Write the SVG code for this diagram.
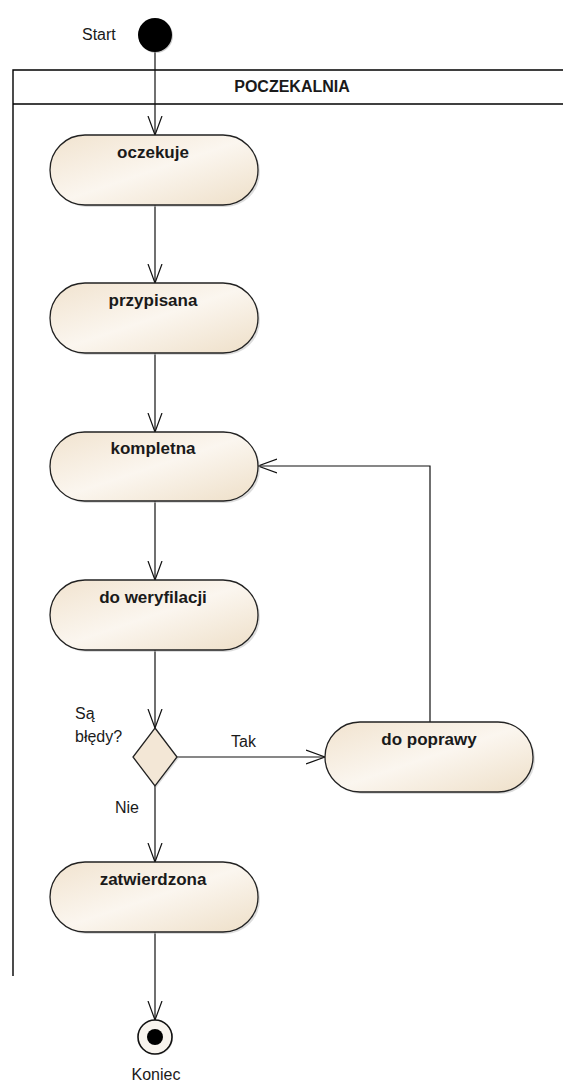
<svg xmlns="http://www.w3.org/2000/svg" width="563" height="1082" viewBox="0 0 563 1082">
  <style>
    .lane { fill: none; stroke: #000; stroke-width: 1.4; }
    .act rect { fill: url(#actFill); stroke: #222; stroke-width: 1.3; }
    .act .sh { fill: #bbb; stroke: none; opacity: 0.5; }
    .act text { font-family: "Liberation Sans", Arial, sans-serif; font-weight: bold; font-size: 17px; fill: #1a1a1a; text-anchor: middle; }
    .lbl { font-family: "Liberation Sans", Arial, sans-serif; font-size: 16px; fill: #1a1a1a; }
    .flow { fill: none; stroke: #111; stroke-width: 1.2; marker-end: url(#open); }
  </style>
  <defs>
    <linearGradient id="actFill" x1="0" y1="0" x2="1" y2="1">
      <stop offset="0" stop-color="#f1e3cf"/>
      <stop offset="0.5" stop-color="#fbf6ef"/>
      <stop offset="1" stop-color="#eedfc8"/>
    </linearGradient>
    <marker id="open" viewBox="0 0 20 16" refX="19" refY="8" markerWidth="20" markerHeight="16" markerUnits="userSpaceOnUse" orient="auto">
      <path d="M0 1 L19 8 L0 15" fill="none" stroke="#111" stroke-width="1.2"/>
    </marker>
  </defs>

  <!-- swimlane -->
  <g id="lane">
    <path class="lane" d="M563 70 H13 V976"/>
    <line class="lane" x1="13" y1="104" x2="563" y2="104"/>
    <text class="lbl" x="292" y="92" text-anchor="middle" font-weight="bold" font-size="17">POCZEKALNIA</text>
  </g>

  <!-- connectors -->
  <g id="connectors">
    <line class="flow" x1="155" y1="52" x2="155" y2="135"/>
    <line class="flow" x1="155" y1="205" x2="155" y2="283"/>
    <line class="flow" x1="155" y1="353" x2="155" y2="432"/>
    <line class="flow" x1="155" y1="501" x2="155" y2="580"/>
    <line class="flow" x1="155" y1="650" x2="155" y2="728"/>
    <line class="flow" x1="177" y1="757" x2="325" y2="757"/>
    <line class="flow" x1="155" y1="786" x2="155" y2="862"/>
    <line class="flow" x1="155" y1="932" x2="155" y2="1020"/>
    <path class="flow" d="M430 722 V466 H258"/>
    <text class="lbl" x="231" y="747">Tak</text>
    <text class="lbl" x="115" y="813">Nie</text>
  </g>

  <!-- initial node -->
  <g id="start">
    <circle cx="156" cy="36" r="17" fill="#999" opacity="0.5"/>
    <circle cx="155" cy="35" r="17" fill="#000"/>
    <text class="lbl" x="82" y="40">Start</text>
  </g>

  <g id="oczekuje" class="act">
    <rect class="sh" x="52" y="137" width="208" height="70" rx="35"/>
    <rect x="50" y="135" width="208" height="70" rx="35"/>
    <text x="153" y="158">oczekuje</text>
  </g>

  <g id="przypisana" class="act">
    <rect class="sh" x="52" y="285" width="208" height="70" rx="35"/>
    <rect x="50" y="283" width="208" height="70" rx="35"/>
    <text x="153" y="306">przypisana</text>
  </g>

  <g id="kompletna" class="act">
    <rect class="sh" x="52" y="434" width="208" height="69" rx="34.5"/>
    <rect x="50" y="432" width="208" height="69" rx="34.5"/>
    <text x="153" y="454">kompletna</text>
  </g>

  <g id="do-weryfilacji" class="act">
    <rect class="sh" x="52" y="582" width="208" height="70" rx="35"/>
    <rect x="50" y="580" width="208" height="70" rx="35"/>
    <text x="153" y="603">do weryfilacji</text>
  </g>

  <!-- decision -->
  <g id="decyzja">
    <polygon points="156,730 179,758 156,788 134,758" fill="#bbb" opacity="0.5"/>
    <polygon points="155,728 177,757 155,786 133,757" fill="#f3e7d6" stroke="#222" stroke-width="1.3"/>
    <text class="lbl" x="75" y="719">Są</text>
    <text class="lbl" x="75" y="742">błędy?</text>
  </g>

  <g id="do-poprawy" class="act">
    <rect class="sh" x="327" y="724" width="208" height="70" rx="35"/>
    <rect x="325" y="722" width="208" height="70" rx="35"/>
    <text x="429" y="745">do poprawy</text>
  </g>

  <g id="zatwierdzona" class="act">
    <rect class="sh" x="52" y="864" width="208" height="70" rx="35"/>
    <rect x="50" y="862" width="208" height="70" rx="35"/>
    <text x="153" y="885">zatwierdzona</text>
  </g>

  <!-- final node -->
  <g id="koniec">
    <circle cx="156" cy="1038" r="17" fill="#bbb" opacity="0.5"/>
    <circle cx="155" cy="1037" r="17" fill="#f8f4ee" stroke="#111" stroke-width="1.6"/>
    <circle cx="155" cy="1037" r="8" fill="#000"/>
    <text class="lbl" x="156" y="1080" text-anchor="middle" font-size="17">Koniec</text>
  </g>
</svg>
